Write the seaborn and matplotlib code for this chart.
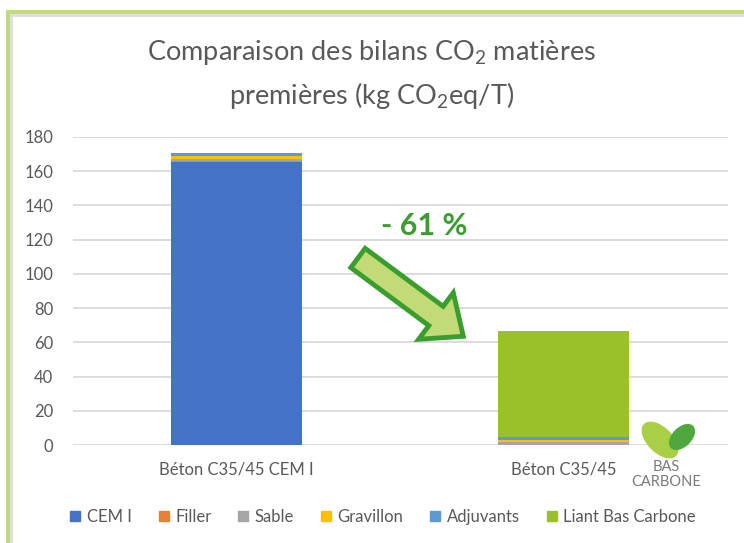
import matplotlib
matplotlib.use("Agg")
import matplotlib.pyplot as plt
import matplotlib.patches as mpatches
from matplotlib.lines import Line2D
from matplotlib.transforms import IdentityTransform
import seaborn as sns

# données (kg CO2eq/T)
categories = ["Béton C35/45 CEM I", "Béton C35/45"]
composants = ["CEM I", "Filler", "Sable", "Gravillon", "Adjuvants", "Liant Bas Carbone"]
cem_i = [165.5, 0]
filler = [0.5, 0.3]
sable = [1.0, 1.5]
gravillon = [2.0, 1.5]
adjuvants = [1.7, 1.8]
liant_bas_carbone = [0, 61.5]
series = [cem_i, filler, sable, gravillon, adjuvants, liant_bas_carbone]
couleurs = ["#4472C4", "#ED7D31", "#A5A5A5", "#FFC000", "#5B9BD5", "#9BC12A"]
yticks = list(range(0, 181, 20))

gris = "#595959"
sns.set_theme(style="white")
plt.rcParams["font.family"] = ["Lato", "DejaVu Sans"]
plt.rcParams["mathtext.fontset"] = "custom"
plt.rcParams["mathtext.rm"] = "Lato"
plt.rcParams["mathtext.it"] = "Lato:italic"

fig = plt.figure(figsize=(7.44, 5.43), dpi=100)
ax = fig.add_axes([0.098, 0.180, 0.880, 0.568])

cumul = [0, 0]
for nom, vals, c in zip(composants, series, couleurs):
    sns.barplot(x=categories, y=vals, bottom=cumul, color=c, width=0.4,
                ax=ax, label=nom, saturation=1, linewidth=0, zorder=3)
    cumul = [a + b for a, b in zip(cumul, vals)]

ax.set_ylim(0, 180)
ax.set_xlim(-0.5, 1.5)
ax.set_yticks(yticks)
ax.yaxis.grid(True, color="#D9D9D9", lw=1.3, zorder=0)
ax.set_axisbelow(True)
for s in ax.spines.values():
    s.set_visible(False)
ax.tick_params(axis="y", colors=gris, labelsize=12, length=0, pad=14)
ax.tick_params(axis="x", colors=gris, labelsize=12, length=0, pad=12)
ax.set_xlabel("")
ax.set_ylabel("")
if ax.get_legend():
    ax.get_legend().remove()

# titre
fig.text(0.5, 0.903, "Comparaison des bilans CO$_2$ matières", ha="center", va="center",
         fontsize=19.5, color=gris)
fig.text(0.5, 0.824, "premières (kg CO$_2$eq/T)", ha="center", va="center",
         fontsize=19.5, color=gris)

# légende
poignees = [mpatches.Patch(color=c, label=n) for n, c in zip(composants, couleurs)]
leg = fig.legend(handles=poignees, loc="center", bbox_to_anchor=(0.515, 0.048), ncol=6,
                 frameon=False, fontsize=12, handlelength=0.6, handleheight=0.6,
                 handletextpad=0.4, columnspacing=1.6)
for t in leg.get_texts():
    t.set_color(gris)

# flèche -61 %
fleche = mpatches.FancyArrow(358, 285, 78, -58, width=24, head_width=58, head_length=34,
                             length_includes_head=False, transform=IdentityTransform(),
                             facecolor="#C3DB76", edgecolor="#3A9E2E", lw=3.5, zorder=5)
fig.patches.append(fleche)
fig.text(424 / 744, 1 - 226 / 543, "- 61 %", ha="center", va="center", fontsize=22,
         fontweight="bold", color="#3A9E2E")

# logo Bas Carbone
fig.patches.append(mpatches.Ellipse((660, 543 - 440), 24, 44, angle=45, color="#A8CF45",
                                    transform=IdentityTransform()))
fig.patches.append(mpatches.Ellipse((682, 543 - 437), 18, 30, angle=-45, color="#4FA83D",
                                    transform=IdentityTransform()))
fig.text(666 / 744, 1 - 467 / 543, "BAS", ha="center", va="center", fontsize=10.5, color="#7A7A7A")
fig.text(666 / 744, 1 - 482 / 543, "CARBONE", ha="center", va="center", fontsize=10.5, color="#7A7A7A")

# cadre
fig.add_artist(Line2D([8, 8], [0, 531], color="#C3DB76", lw=3, transform=IdentityTransform()))
fig.add_artist(Line2D([8, 744], [531, 531], color="#C3DB76", lw=3, transform=IdentityTransform()))
fig.add_artist(Line2D([11, 11], [0, 528], color="#DDDDDD", lw=2, transform=IdentityTransform()))
fig.add_artist(Line2D([11, 744], [528, 528], color="#DDDDDD", lw=2, transform=IdentityTransform()))

fig.savefig("out.png", dpi=100)
